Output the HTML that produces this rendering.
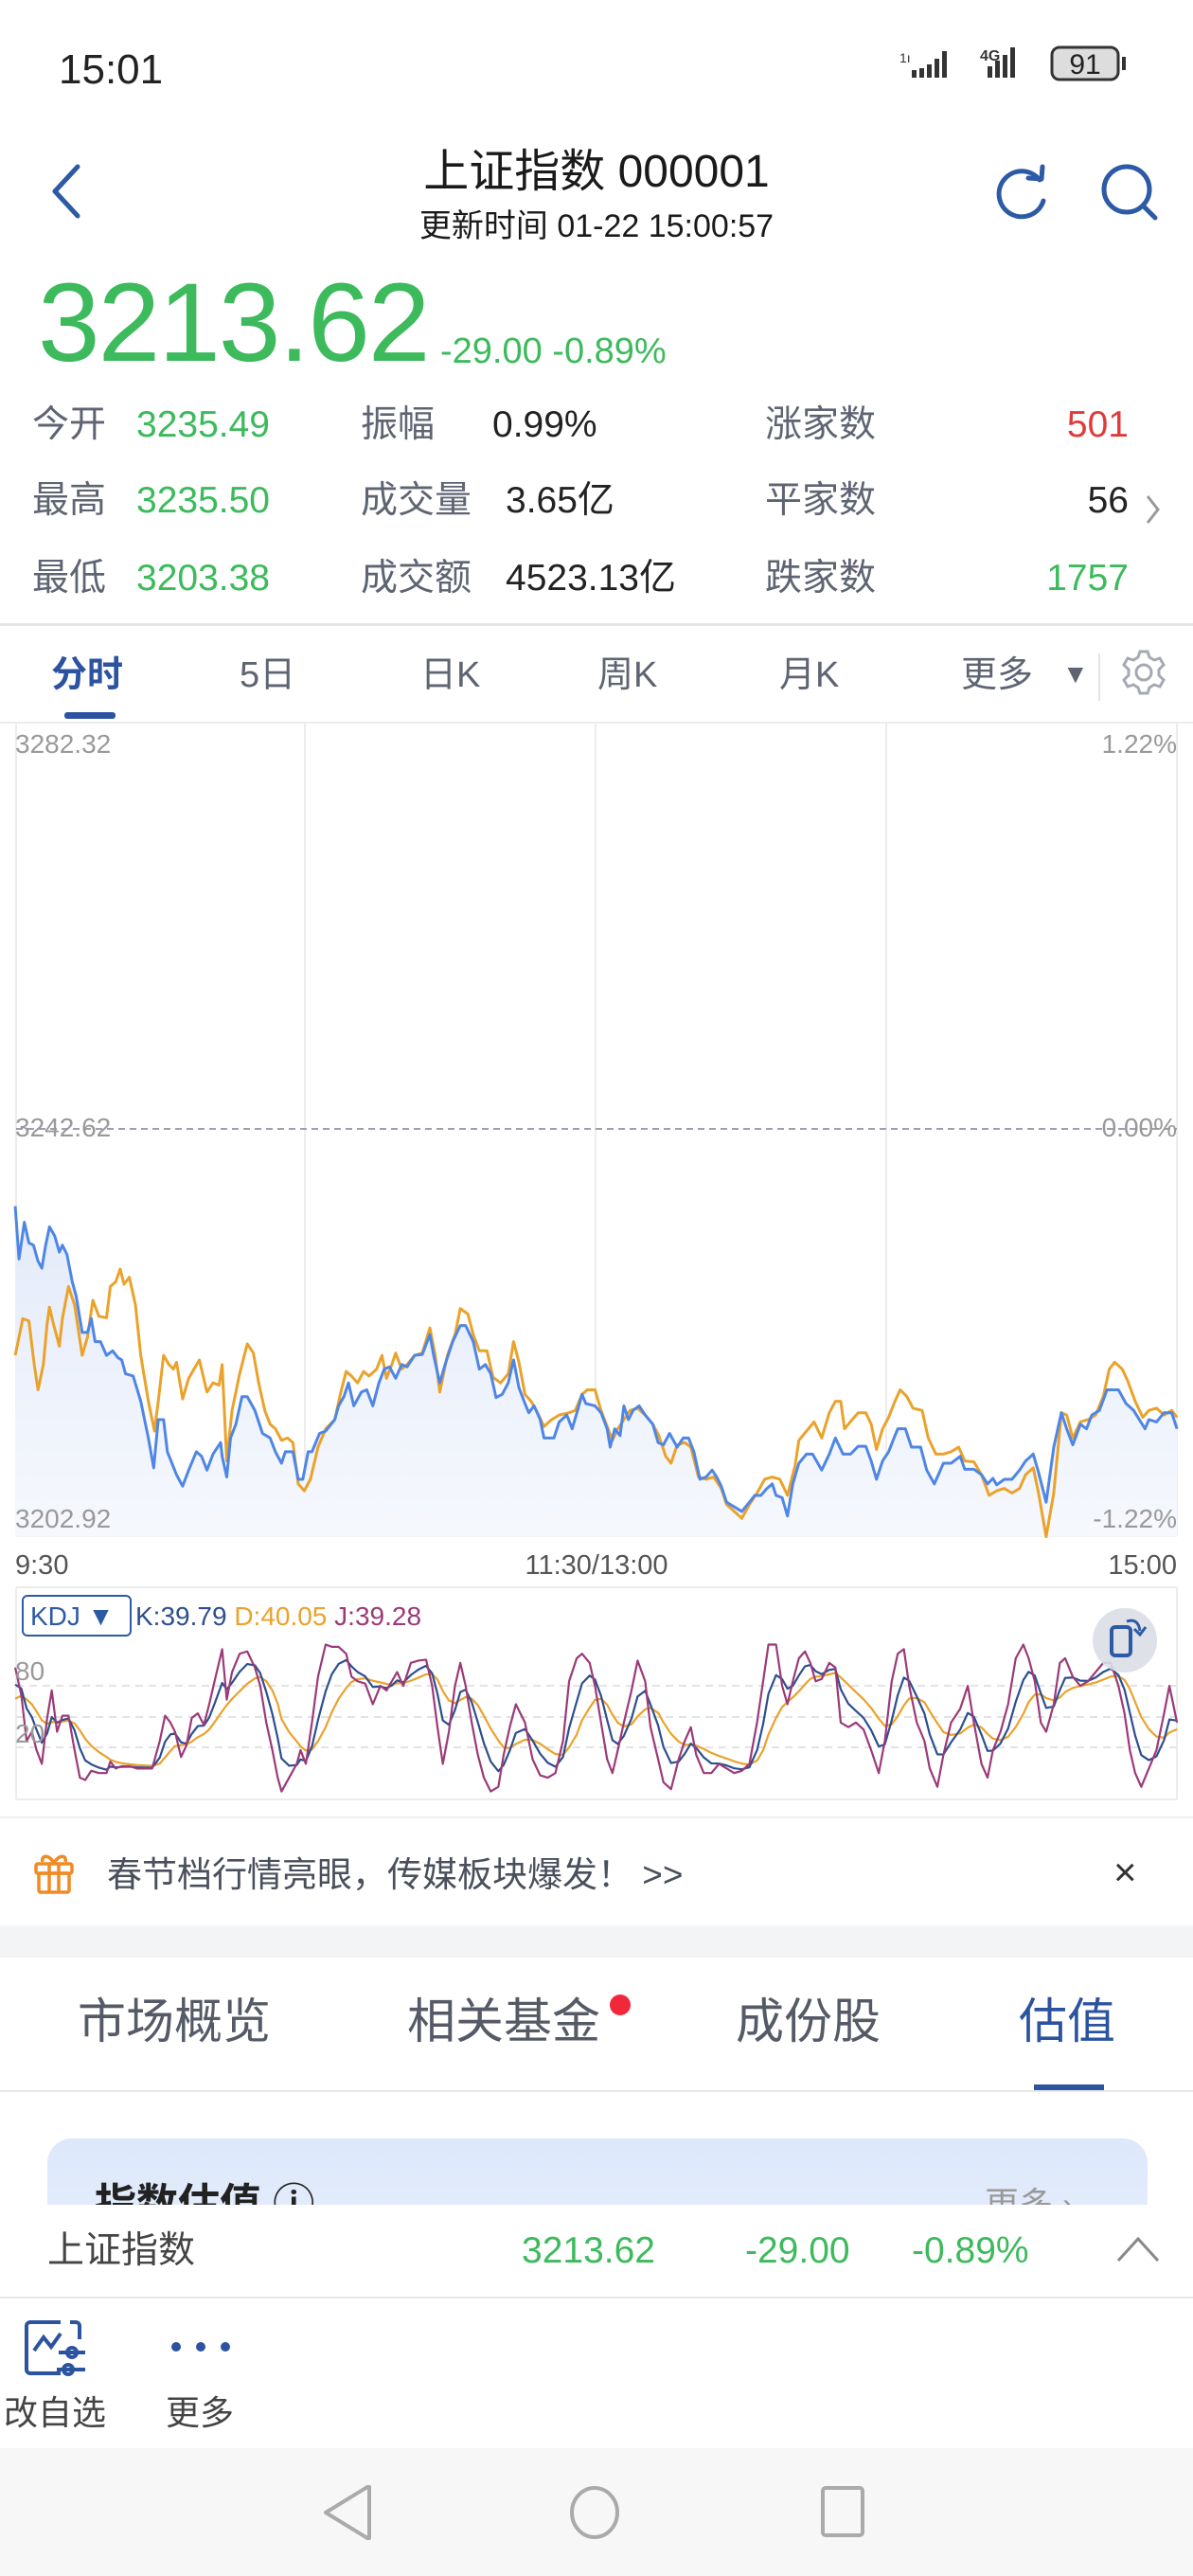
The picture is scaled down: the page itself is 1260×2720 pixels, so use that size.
<!DOCTYPE html>
<html><head><meta charset="utf-8">
<style>
*{margin:0;padding:0;box-sizing:border-box}
body{width:1260px;height:2720px;background:#fff;position:relative;overflow:hidden;font-family:"Liberation Sans","Noto Sans CJK SC",sans-serif;color:#222}
.a{position:absolute;white-space:nowrap;line-height:1}
.g{color:#3dba5c}
.lb{color:#5f6472}
</style></head><body>
<!-- status bar -->
<div class="a" style="left:62px;top:52px;font-size:44px;color:#222">15:01</div>
<div class="a" style="left:950px;top:54px;font-size:14px;color:#333">1ı</div>
<svg class="a" style="left:955px;top:44px" width="300" height="50">
 <g fill="#333"><rect x="8" y="30" width="5" height="8"/><rect x="16" y="28" width="5" height="10"/><rect x="24" y="24" width="5" height="14"/><rect x="32" y="18" width="5" height="20"/><rect x="40" y="10" width="5" height="28"/>
 <rect x="88" y="26" width="5" height="12"/><rect x="96" y="20" width="5" height="18"/><rect x="104" y="14" width="5" height="24"/><rect x="112" y="6" width="5" height="32"/></g>
 <text x="80" y="20" font-size="16" font-weight="bold" fill="#333" font-family="Liberation Sans">4G</text>
 <rect x="156" y="6" width="70" height="34" rx="8" fill="#ddd" stroke="#333" stroke-width="3"/>
 <rect x="230" y="16" width="4" height="14" fill="#333"/>
 <text x="191" y="34" font-size="30" fill="#222" text-anchor="middle" font-family="Liberation Sans">91</text>
</svg>
<!-- header -->
<svg class="a" style="left:50px;top:170px" width="40" height="64"><polyline points="32,6 8,32 32,58" fill="none" stroke="#2d5aa5" stroke-width="5" stroke-linecap="round" stroke-linejoin="round"/></svg>
<div class="a" style="left:0;width:1260px;text-align:center;top:158px;font-size:48px;color:#1a1a1a">上证指数 000001</div>
<div class="a" style="left:0;width:1260px;text-align:center;top:222px;font-size:34px;color:#1a1a1a">更新时间 01-22 15:00:57</div>
<svg class="a" style="left:1050px;top:172px" width="64" height="64"><path d="M48 18 A24 24 0 1 0 52 40" fill="none" stroke="#2d5aa5" stroke-width="5" stroke-linecap="round"/><polyline points="36,16 50,17 51,4" fill="none" stroke="#2d5aa5" stroke-width="5" stroke-linecap="round" stroke-linejoin="round"/></svg>
<svg class="a" style="left:1160px;top:170px" width="70" height="70"><circle cx="30" cy="30" r="24" fill="none" stroke="#2d5aa5" stroke-width="5"/><line x1="48" y1="48" x2="60" y2="60" stroke="#2d5aa5" stroke-width="5" stroke-linecap="round"/></svg>
<!-- price -->
<div class="a g" style="left:40px;top:282px;font-size:118px;letter-spacing:-2px">3213.62</div>
<div class="a g" style="left:465px;top:352px;font-size:38px">-29.00 -0.89%</div>
<!-- stats -->
<div class="a lb" style="left:34px;top:429px;font-size:39px">今开</div>
<div class="a g" style="left:144px;top:429px;font-size:39px">3235.49</div>
<div class="a lb" style="left:381px;top:429px;font-size:39px">振幅</div>
<div class="a" style="left:520px;top:429px;font-size:39px">0.99%</div>
<div class="a lb" style="left:808px;top:429px;font-size:39px">涨家数</div>
<div class="a" style="right:68px;top:429px;font-size:39px;color:#e03b3b">501</div>
<div class="a lb" style="left:34px;top:509px;font-size:39px">最高</div>
<div class="a g" style="left:144px;top:509px;font-size:39px">3235.50</div>
<div class="a lb" style="left:381px;top:509px;font-size:39px">成交量</div>
<div class="a" style="left:534px;top:509px;font-size:39px">3.65亿</div>
<div class="a lb" style="left:808px;top:509px;font-size:39px">平家数</div>
<div class="a" style="right:68px;top:509px;font-size:39px">56</div>
<svg class="a" style="left:1208px;top:520px" width="20" height="36"><polyline points="4,4 15,18 4,32" fill="none" stroke="#999" stroke-width="3"/></svg>
<div class="a lb" style="left:34px;top:591px;font-size:39px">最低</div>
<div class="a g" style="left:144px;top:591px;font-size:39px">3203.38</div>
<div class="a lb" style="left:381px;top:591px;font-size:39px">成交额</div>
<div class="a" style="left:534px;top:591px;font-size:39px">4523.13亿</div>
<div class="a lb" style="left:808px;top:591px;font-size:39px">跌家数</div>
<div class="a g" style="right:68px;top:591px;font-size:39px">1757</div>
<div class="a" style="left:0;top:658px;width:1260px;height:3px;background:#e6e6e6"></div>
<!-- period tabs -->
<div class="a" style="left:54px;top:694px;font-size:38px;color:#2c53a0;font-weight:bold">分时</div>
<div class="a" style="left:68px;top:752px;width:54px;height:7px;border-radius:3px;background:#2c53a0"></div>
<div class="a lb" style="left:253px;top:694px;font-size:38px">5日</div>
<div class="a lb" style="left:444px;top:694px;font-size:38px">日K</div>
<div class="a lb" style="left:631px;top:694px;font-size:38px">周K</div>
<div class="a lb" style="left:823px;top:694px;font-size:38px">月K</div>
<div class="a lb" style="left:1015px;top:694px;font-size:38px">更多</div>
<div class="a lb" style="left:1122px;top:698px;font-size:28px">▼</div>
<div class="a" style="left:1160px;top:690px;width:2px;height:50px;background:#e4e4e4"></div>
<svg class="a" style="left:1182px;top:684px" width="52" height="52"><g fill="none" stroke="#a5a9b4" stroke-width="3"><circle cx="26" cy="26" r="8"/><path d="M22 4h8l2 6 5 3 6-2 4 7-5 5v6l5 5-4 7-6-2-5 3-2 6h-8l-2-6-5-3-6 2-4-7 5-5v-6l-5-5 4-7 6 2 5-3z"/></g></svg>
<div class="a" style="left:0;top:762px;width:1260px;height:2px;background:#ececec"></div>

<!-- chart -->
<svg class="a" style="left:0;top:0" width="1260" height="1920" id="ch">
 <defs><linearGradient id="gf" x1="0" y1="0" x2="0" y2="1"><stop offset="0" stop-color="#e3ebfa"/><stop offset="1" stop-color="#f6f8fd"/></linearGradient></defs>
 <g stroke="#ececec" stroke-width="2">
  <line x1="17" y1="764" x2="17" y2="1622"/><line x1="1243" y1="764" x2="1243" y2="1622"/>
  <line x1="322" y1="764" x2="322" y2="1622"/><line x1="629" y1="764" x2="629" y2="1622"/><line x1="936" y1="764" x2="936" y2="1622"/>
  <line x1="17" y1="1622" x2="1243" y2="1622"/>
  <line x1="17" y1="1676" x2="1243" y2="1676"/><line x1="17" y1="1900" x2="1243" y2="1900"/>
  <line x1="17" y1="1676" x2="17" y2="1900"/><line x1="1243" y1="1676" x2="1243" y2="1900"/>
 </g>
 <g stroke="#e3e3e3" stroke-width="2" stroke-dasharray="8,6">
  <line x1="17" y1="1780" x2="1243" y2="1780"/><line x1="17" y1="1813" x2="1243" y2="1813"/><line x1="17" y1="1845" x2="1243" y2="1845"/>
 </g>
 <line x1="17" y1="1192" x2="1243" y2="1192" stroke="#9aa0ae" stroke-width="2" stroke-dasharray="7,5"/>
 <g id="pm" transform="translate(0,1150) scale(0.80357,0.48469)"></g>
 <g id="km" transform="translate(0,1150) scale(0.80357,0.48469)"></g>
 <g font-family="Liberation Sans" font-size="28" fill="#999">
  <text x="16" y="795">3282.32</text><text x="1243" y="795" text-anchor="end">1.22%</text>
  <text x="16" y="1200">3242.62</text><text x="1243" y="1200" text-anchor="end">0.00%</text>
  <text x="16" y="1613">3202.92</text><text x="1243" y="1613" text-anchor="end">-1.22%</text>
  <text x="16" y="1774">80</text><text x="16" y="1840">20</text>
 </g>
 <g font-family="Liberation Sans" font-size="29" fill="#555">
  <text x="16" y="1662">9:30</text><text x="630" y="1662" text-anchor="middle">11:30/13:00</text><text x="1243" y="1662" text-anchor="end">15:00</text>
 </g>
 <rect x="24" y="1685" width="114" height="42" rx="5" fill="#fff" stroke="#2d5aa5" stroke-width="2"/>
 <text x="32" y="1716" font-family="Liberation Sans" font-size="28" fill="#2d5aa5">KDJ ▼</text>
 <text x="143" y="1716" font-family="Liberation Sans" font-size="28"><tspan fill="#2d4f8e">K:39.79 </tspan><tspan fill="#eaa22c">D:40.05 </tspan><tspan fill="#9b3a78">J:39.28</tspan></text>
 <circle cx="1188" cy="1732" r="34" fill="#dcdee5" opacity="0.9"/>
 <rect x="1174" y="1718" width="20" height="30" rx="4" fill="none" stroke="#2d5aa5" stroke-width="4"/>
 <path d="M1190 1712 q12 -4 14 10" fill="none" stroke="#2d5aa5" stroke-width="3"/><polyline points="1198,1720 1204,1726 1210,1718" fill="none" stroke="#2d5aa5" stroke-width="3"/>
</svg>

<!-- banner -->
<div class="a" style="left:0;top:1918px;width:1260px;height:2px;background:#efefef"></div>
<svg class="a" style="left:34px;top:1954px" width="46" height="48"><g fill="none" stroke="#f08a24" stroke-width="3.5"><rect x="4" y="14" width="38" height="10" rx="2"/><rect x="7" y="24" width="32" height="20" rx="2"/><line x1="18" y1="14" x2="18" y2="44"/><line x1="28" y1="14" x2="28" y2="44"/><path d="M23 14c-4-10-14-10-12-2M23 14c4-10 14-10 12-2"/></g></svg>
<div class="a lb" style="left:113px;top:1961px;font-size:37px;color:#4a4f5c">春节档行情亮眼，传媒板块爆发！ &gt;&gt;</div>
<div class="a" style="left:1176px;top:1956px;font-size:42px;color:#333">×</div>
<div class="a" style="left:0;top:2033px;width:1260px;height:34px;background:#f3f4f6"></div>
<!-- section tabs -->
<div class="a lb" style="left:82px;top:2109px;font-size:51px;color:#555a66">市场概览</div>
<div class="a lb" style="left:430px;top:2109px;font-size:51px;color:#555a66">相关基金</div>
<div class="a" style="left:644px;top:2106px;width:22px;height:22px;border-radius:50%;background:#f0283a"></div>
<div class="a lb" style="left:777px;top:2109px;font-size:51px;color:#555a66">成份股</div>
<div class="a" style="left:1076px;top:2109px;font-size:51px;color:#2c53a0">估值</div>
<div class="a" style="left:1092px;top:2201px;width:74px;height:6px;background:#2c53a0"></div>
<div class="a" style="left:0;top:2207px;width:1260px;height:2px;background:#e8e8e8"></div>
<div class="a" style="left:50px;top:2258px;width:1162px;height:120px;border-radius:26px 26px 0 0;background:linear-gradient(#dce8fb,#e6eefb);overflow:hidden">
 <div class="a" style="left:50px;top:48px;font-size:44px;font-weight:bold;color:#222">指数估值 ⓘ</div>
 <div class="a" style="left:990px;top:52px;font-size:36px;color:#999">更多 ›</div>
</div>
<!-- sticky bar -->
<div class="a" style="left:0;top:2328px;width:1260px;height:98px;background:#fff"></div>
<div class="a lb" style="left:50px;top:2357px;font-size:39px;color:#444">上证指数</div>
<div class="a g" style="left:551px;top:2357px;font-size:39px">3213.62</div>
<div class="a g" style="left:787px;top:2357px;font-size:39px">-29.00</div>
<div class="a g" style="left:963px;top:2357px;font-size:39px">-0.89%</div>
<svg class="a" style="left:1178px;top:2360px" width="50" height="30"><polyline points="3,27 24,4 45,27" fill="none" stroke="#888" stroke-width="3"/></svg>
<div class="a" style="left:0;top:2425px;width:1260px;height:2px;background:#e6e6e6"></div>
<!-- toolbar -->
<svg class="a" style="left:24px;top:2448px" width="72" height="64"><g fill="none" stroke="#2c53a0" stroke-width="4"><path d="M40 4H8a4 4 0 0 0-4 4v46a4 4 0 0 0 4 4h32M60 22V8a4 4 0 0 0-4-4h-6"/><polyline points="12,34 22,20 30,30 40,16"/><circle cx="52" cy="36" r="5"/><circle cx="48" cy="54" r="5"/><line x1="38" y1="36" x2="66" y2="36"/><line x1="36" y1="54" x2="66" y2="54"/></g></svg>
<div class="a lb" style="left:4px;top:2530px;font-size:36px;color:#444">改自选</div>
<svg class="a" style="left:178px;top:2468px" width="70" height="20"><g fill="#2c53a0"><circle cx="8" cy="10" r="5"/><circle cx="34" cy="10" r="5"/><circle cx="60" cy="10" r="5"/></g></svg>
<div class="a lb" style="left:175px;top:2530px;font-size:36px;color:#444">更多</div>
<!-- nav bar -->
<div class="a" style="left:0;top:2585px;width:1260px;height:135px;background:#f7f7f7"></div>
<svg class="a" style="left:340px;top:2620px" width="600" height="70"><g fill="none" stroke="#aaa" stroke-width="4"><path d="M50 6 L48 6 L4 33 L48 60 L50 60 Z" stroke-linejoin="round"/><ellipse cx="288" cy="33" rx="24" ry="26"/><rect x="529" y="7" width="42" height="50" rx="3"/></g></svg>

<script>
var blue=[[20,255],[25,370],[32,290],[38,335],[44,340],[50,375],[55,390],[60,340],[65,300],[72,320],[78,355],[82,340],[88,360],[95,420],[100,450],[108,530],[115,530],[120,500],[125,550],[132,550],[140,580],[148,570],[155,585],[160,590],[165,620],[175,625],[185,680],[195,760],[202,825],[208,720],[215,720],[220,790],[232,840],[240,865],[248,830],[258,790],[265,800],[272,830],[280,795],[290,770],[292,800],[298,845],[303,760],[310,730],[318,670],[325,670],[335,700],[345,750],[355,760],[362,790],[370,815],[375,790],[385,790],[392,850],[398,850],[405,790],[410,790],[420,750],[428,745],[440,720],[445,690],[452,670],[458,640],[465,690],[475,660],[482,655],[490,690],[498,640],[505,610],[512,605],[520,630],[528,600],[535,605],[545,580],[555,578],[565,535],[570,580],[578,640],[585,600],[595,550],[605,515],[612,515],[622,550],[630,610],[638,600],[645,620],[652,672],[660,665],[668,640],[675,590],[682,650],[690,685],[695,705],[702,690],[710,720],[715,760],[728,760],[735,725],[745,710],[752,740],[760,695],[765,665],[770,685],[782,690],[790,705],[798,740],[802,780],[808,740],[815,755],[820,690],[826,720],[832,700],[840,690],[848,710],[858,730],[865,770],[872,775],[880,750],[890,780],[898,760],[905,760],[912,790],[920,850],[928,845],[936,830],[942,845],[948,865],[955,900],[965,910],[975,920],[985,900],[992,885],[1000,885],[1008,870],[1015,860],[1020,885],[1028,890],[1035,930],[1042,860],[1050,815],[1060,795],[1068,795],[1080,830],[1090,795],[1098,760],[1108,795],[1118,795],[1128,778],[1138,778],[1145,810],[1152,850],[1160,810],[1168,790],[1175,760],[1180,740],[1190,740],[1198,780],[1210,780],[1218,830],[1228,860],[1240,815],[1250,815],[1262,800],[1268,828],[1280,828],[1290,840],[1298,860],[1305,848],[1310,862],[1320,850],[1330,850],[1340,830],[1348,810],[1358,795],[1365,835],[1375,900],[1385,780],[1395,705],[1402,740],[1410,775],[1420,730],[1428,740],[1435,710],[1445,700],[1455,655],[1470,655],[1480,685],[1490,700],[1505,740],[1510,720],[1520,725],[1530,705],[1540,705],[1547,740]];
var orng=[[20,580],[30,500],[38,505],[45,600],[50,655],[57,600],[62,510],[65,475],[70,510],[78,560],[82,500],[90,430],[98,470],[108,580],[115,540],[122,460],[130,495],[140,498],[145,430],[152,420],[158,392],[163,425],[170,410],[178,470],[185,580],[195,680],[203,745],[208,680],[215,580],[222,600],[228,610],[232,595],[240,675],[248,630],[255,610],[262,590],[272,660],[280,640],[288,645],[292,600],[298,810],[305,700],[315,620],[325,555],[333,575],[340,640],[348,700],[355,730],[362,740],[370,765],[378,760],[385,770],[392,860],[400,875],[408,850],[418,780],[428,740],[440,720],[448,660],[455,615],[462,625],[470,640],[478,615],[485,625],[495,610],[502,580],[508,630],[515,600],[520,575],[528,610],[535,600],[545,580],[555,575],[565,520],[572,580],[578,660],[588,580],[598,535],[605,478],[615,490],[622,535],[630,570],[640,570],[648,628],[658,640],[668,620],[675,550],[682,595],[690,665],[698,680],[705,700],[715,735],[725,720],[735,710],[748,705],[756,700],[765,665],[772,655],[782,655],[790,700],[798,735],[805,765],[812,740],[820,720],[828,700],[838,695],[848,710],[858,730],[866,755],[875,800],[882,815],[890,775],[900,770],[908,780],[918,845],[928,850],[938,845],[948,870],[955,905],[965,920],[975,935],[985,905],[995,880],[1005,850],[1015,845],[1025,850],[1035,885],[1045,820],[1050,765],[1060,745],[1070,725],[1080,760],[1090,705],[1098,680],[1105,680],[1110,740],[1120,720],[1128,705],[1138,705],[1145,730],[1152,785],[1160,740],[1168,715],[1175,685],[1183,655],[1192,670],[1200,695],[1212,700],[1220,760],[1230,795],[1240,795],[1250,790],[1260,780],[1268,810],[1280,812],[1290,840],[1300,885],[1310,875],[1320,870],[1330,880],[1340,870],[1348,840],[1358,825],[1365,880],[1375,975],[1385,880],[1395,705],[1402,710],[1410,760],[1420,725],[1430,720],[1440,710],[1450,670],[1458,610],[1465,595],[1475,610],[1482,635],[1492,680],[1502,715],[1510,700],[1520,695],[1530,710],[1540,700],[1547,715]];
var J=[[20,1260],[28,1320],[35,1420],[42,1400],[48,1440],[55,1470],[62,1370],[68,1310],[75,1400],[82,1365],[90,1365],[98,1440],[105,1500],[112,1505],[120,1485],[130,1490],[140,1490],[145,1465],[152,1480],[160,1475],[170,1475],[180,1480],[200,1480],[210,1420],[217,1365],[224,1380],[230,1400],[238,1455],[245,1430],[252,1370],[260,1360],[268,1385],[275,1340],[282,1290],[292,1220],[298,1330],[305,1270],[315,1230],[325,1225],[335,1260],[342,1300],[350,1380],[358,1440],[365,1500],[370,1530],[380,1500],[390,1470],[395,1440],[402,1470],[410,1380],[418,1280],[428,1210],[436,1215],[445,1215],[455,1230],[462,1280],[470,1290],[480,1295],[490,1340],[500,1300],[508,1310],[515,1290],[522,1270],[530,1300],[540,1250],[550,1245],[560,1243],[568,1300],[575,1390],[582,1470],[590,1400],[598,1300],[605,1250],[612,1300],[620,1380],[628,1450],[636,1500],[645,1530],[655,1520],[662,1450],[670,1390],[678,1340],[690,1380],[700,1460],[710,1495],[720,1500],[730,1490],[740,1420],[748,1290],[758,1240],[765,1230],[775,1250],[782,1300],[790,1380],[798,1460],[805,1490],[812,1440],[820,1380],[830,1310],[838,1245],[848,1290],[855,1390],[865,1460],[872,1510],[882,1525],[892,1460],[900,1420],[908,1390],[915,1450],[925,1490],[935,1490],[945,1470],[955,1480],[965,1490],[975,1485],[985,1470],[995,1380],[1003,1290],[1010,1210],[1020,1210],[1028,1300],[1035,1340],[1042,1290],[1050,1240],[1058,1225],[1065,1250],[1072,1290],[1080,1285],[1090,1250],[1098,1260],[1105,1380],[1115,1390],[1125,1380],[1135,1395],[1145,1440],[1155,1490],[1163,1420],[1172,1290],[1180,1230],[1188,1220],[1195,1300],[1205,1380],[1215,1420],[1222,1480],[1232,1520],[1240,1450],[1250,1380],[1262,1350],[1272,1300],[1280,1380],[1290,1470],[1298,1500],[1305,1440],[1315,1400],[1325,1340],[1335,1240],[1345,1210],[1352,1240],[1360,1290],[1368,1380],[1375,1400],[1385,1340],[1393,1250],[1400,1240],[1410,1280],[1420,1300],[1430,1290],[1440,1270],[1450,1250],[1460,1250],[1470,1300],[1478,1360],[1485,1440],[1492,1490],[1500,1520],[1510,1480],[1520,1440],[1530,1360],[1537,1300],[1547,1380]];
function ps(a){return a.map(function(p,i){return (i?'L':'M')+p[0]+' '+p[1]}).join('')}
function path(d,c,w,f){return '<path d="'+d+'" fill="'+(f||'none')+'" stroke="'+c+'" stroke-width="'+w+'" vector-effect="non-scaling-stroke" stroke-linejoin="round"/>'}
var pm=document.getElementById('pm');
var fill='<path d="'+ps(blue)+'L1547 975L20 975Z" fill="url(#gf)" stroke="none"/>';
pm.innerHTML=fill+path(ps(orng),'#eba22b',3)+path(ps(blue),'#4f86e6',3);
var K=[],D=[],k=J[0][1]+60,d=k+20;
for(var i=0;i<J.length;i++){k=k*0.62+J[i][1]*0.38;d=d*0.72+k*0.28;K.push([J[i][0],k]);D.push([J[i][0],d]);}
document.getElementById('km').innerHTML=path(ps(D),'#eba22b',2.2)+path(ps(K),'#2d4f8e',2.2)+path(ps(J),'#9b3a78',2.2);
</script>
</body></html>
